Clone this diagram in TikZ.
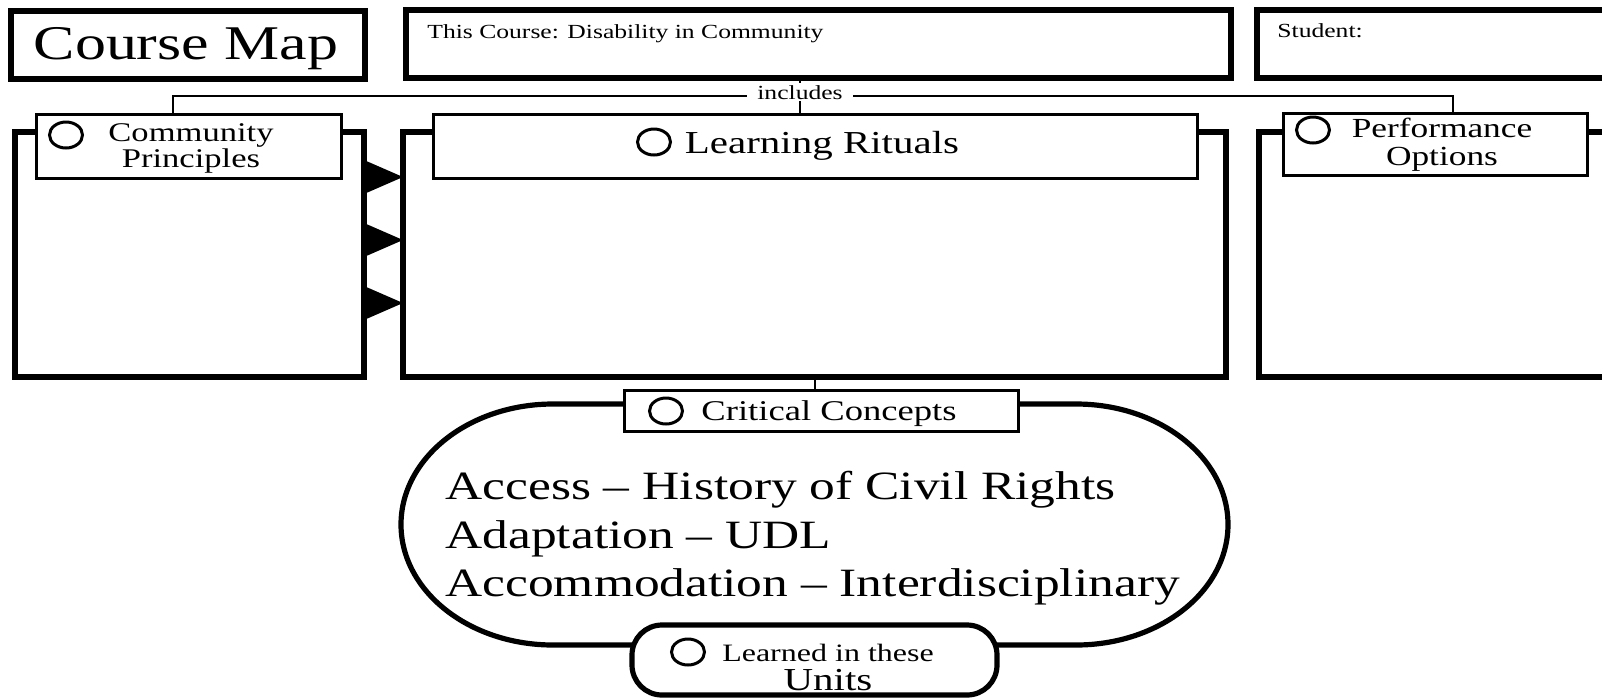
\documentclass[tikz,border=0pt]{standalone}
\usepackage{fontspec}
\setmainfont{Liberation Serif}[FakeStretch=1.28]
\usetikzlibrary{shapes.geometric}

\begin{document}
\begin{tikzpicture}[x=0.5pt,y=-0.5pt,
		topbox/.style={draw,line width=3.2pt,inner sep=0pt,minimum height=34pt},
		bigbox/.style={draw,line width=2.75pt,inner sep=0pt,minimum height=122.5pt},
		labelbox/.style={draw,fill=white,line width=1.5pt,inner sep=0pt},
		tag/.style={ellipse,draw,line width=1.5pt,minimum width=16.5pt,minimum height=13pt,inner sep=0pt},
		link/.style={line width=1pt},
		txt/.style={inner sep=0pt,anchor=base}
		]
	\useasboundingbox (0,0) rectangle (1602,698);
	\clip (0,0) rectangle (1602,698);

	\node[topbox,minimum width=177pt](mapbox) at (188,45){};
	\node[topbox,minimum width=412.5pt](coursebox) at (818.5,44){};
	\node[topbox,minimum width=221.5pt](studentbox) at (1478.5,44){};
	\node[txt,font=\fontsize{24.2}{29}\selectfont](maptitle) at (186,59){Course Map};
	\node[txt,anchor=base west,font=\fontsize{10}{12}\selectfont](coursetitle) at (427,38){This Course: Disability in Community};
	\node[txt,anchor=base west,font=\fontsize{10}{12}\selectfont](studentname) at (1277,37){Student:};

	\node[bigbox,minimum width=174.5pt](principles) at (189.5,254.5){};
	\node[bigbox,minimum width=411.5pt](rituals) at (814.5,254.5){};
	\node[bigbox,minimum width=220.5pt](options) at (1479.5,254.5){};
	\foreach \ty in {177,240,303}
		\fill (364,\ty-17) -- (403,\ty) -- (364,\ty+17) -- cycle;

	\node[labelbox,minimum width=152.5pt,minimum height=32pt](principleslabel) at (188.5,146){};
	\node[labelbox,minimum width=382pt,minimum height=32pt](ritualslabel) at (815,146){};
	\node[labelbox,minimum width=152pt,minimum height=31pt](optionslabel) at (1435,144){};
	\node[tag](principlestag) at (66,135){};
	\node[inner sep=0pt,align=center,font=\fontsize{13.5}{13}\selectfont](principlestext) at (191,148.5){Community\\Principles};
	\node[tag](ritualstag) at (654,142){};
	\node[txt,font=\fontsize{16}{19}\selectfont](ritualstext) at (822,153){Learning Rituals};
	\node[tag](optionstag) at (1313,130){};
	\node[inner sep=0pt,align=center,font=\fontsize{13.8}{14}\selectfont](optionstext) at (1442,144.5){Performance\\Options};

	\coordinate (hubleft) at (173,96);
	\coordinate (hubright) at (1453,96);
	\coordinate (hubmid) at (800,96);
	\draw[link] (principleslabel.north -| hubleft) -- (hubleft) -- (hubright) -- (optionslabel.north -| hubright);
	\draw[link] (coursebox.south -| hubmid) -- (ritualslabel.north -| hubmid);
	\node[txt,fill=white,inner xsep=5pt,inner ysep=1pt,font=\fontsize{10}{12}\selectfont](includes) at (800,99){includes};

	\draw[line width=2.6pt] (553,404) -- (1076,404)
		arc[start angle=90,end angle=-90,x radius=76pt,y radius=60.25pt] -- (553,645)
		arc[start angle=270,end angle=90,x radius=76pt,y radius=60.25pt] -- cycle;
	\node[labelbox,minimum width=197pt,minimum height=20.5pt](conceptslabel) at (821,410.5){};
	\node[tag](conceptstag) at (666,411){};
	\node[txt,font=\fontsize{14.3}{17}\selectfont](conceptstext) at (829,420){Critical Concepts};
	\draw[link] (rituals.south) -- (rituals.south |- conceptslabel.north);
	\node[inner sep=0pt,anchor=north west,align=left,font=\fontsize{20.1}{24.25}\selectfont](conceptslist) at (445,471){Access – History of Civil Rights\\Adaptation – UDL\\Accommodation – Interdisciplinary};

	\node[draw,fill=white,line width=2.6pt,rounded corners=15pt,minimum width=182.5pt,minimum height=35pt](unitspill) at (814.5,660){};
	\node[tag](unitstag) at (688,652){};
	\node[txt,font=\fontsize{12.5}{15}\selectfont](unitstext) at (828,661){Learned in these};
	\node[txt,font=\fontsize{16}{19}\selectfont](unitsname) at (828,690){Units};
\end{tikzpicture}
\end{document}
